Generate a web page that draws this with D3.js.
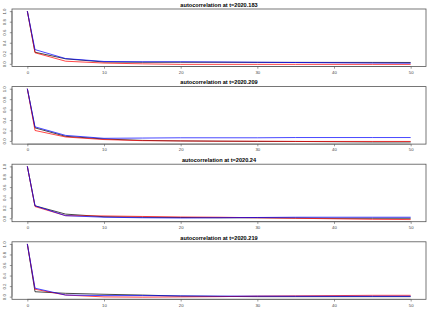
<!DOCTYPE html>
<html>
<head>
<meta charset="utf-8">
<script src="https://cdn.jsdelivr.net/npm/d3@7"></script>
<style>
  body { margin: 0; background: #fff; }
  text { font-family: "Liberation Sans", Arial, sans-serif; }
</style>
</head>
<body>
<div id="container"></div>
<script>
/* CONSTANTS AND GLOBALS */
const width = 436;
const height = 309;

const lags = [0, 1, 5, 10, 15, 20, 25, 30, 35, 40, 45, 50];
const titles = ["autocorrelation at t=2020.183", "autocorrelation at t=2020.209",
                "autocorrelation at t=2020.24", "autocorrelation at t=2020.219"];
const xTicks = [0, 10, 20, 30, 40, 50];
const yTicks = [0, 0.2, 0.4, 0.6, 0.8, 1.0];

// panel 1
const black1 = [1, 0.22, 0.095, 0.035, 0.03, 0.03, 0.03, 0.028, 0.028, 0.027, 0.027, 0.026];
const red1   = [1, 0.21, 0.05, 0.015, 0.0, -0.01, -0.01, -0.01, -0.01, -0.01, -0.01, -0.01];
const blue1  = [1, 0.27, 0.10, 0.045, 0.04, 0.04, 0.035, 0.03, 0.025, 0.02, 0.015, 0.012];
// panel 2
const black2 = [1, 0.25, 0.088, 0.037, 0.01, 0.0, -0.005, -0.01, -0.01, -0.015, -0.02, -0.02];
const red2   = [1, 0.20, 0.075, 0.026, 0.005, 0.0, -0.005, -0.005, -0.01, -0.01, -0.01, -0.01];
const blue2  = [1, 0.27, 0.106, 0.05, 0.055, 0.06, 0.06, 0.06, 0.065, 0.065, 0.065, 0.065];
// panel 3
const black3 = [1, 0.24, 0.08, 0.03, 0.02, 0.015, 0.01, 0.01, 0.005, 0.0, 0.0, 0.0];
const red3   = [1, 0.225, 0.05, 0.045, 0.035, 0.025, 0.02, 0.01, 0.0, -0.01, -0.02, -0.025];
const blue3  = [1, 0.24, 0.05, 0.02, 0.01, 0.005, 0.01, 0.015, 0.02, 0.02, 0.02, 0.02];
// panel 4
const black4 = [1, 0.093, 0.063, 0.045, 0.03, 0.01, 0.005, 0.0, 0.0, 0.0, 0.0, 0.0];
const red4   = [1, 0.14, 0.03, -0.005, -0.01, -0.005, 0.0, 0.01, 0.015, 0.02, 0.025, 0.025];
const blue4  = [1, 0.16, 0.03, 0.02, 0.02, 0.015, 0.01, 0.01, 0.008, 0.007, 0.007, 0.007];

const panels = [
  [black1, red1, blue1],
  [black2, red2, blue2],
  [black3, red3, blue3],
  [black4, red4, blue4]
];
const colors = ["black", "red", "blue"];

/* LAYOUT */
const boxLeft = 12, boxRight = 426;
const boxTop0 = 9, panelStep = 77.6, boxH = 57.5;

const svg = d3.select("#container")
  .append("svg")
  .attr("width", width)
  .attr("height", height);

// x scale like R: 4% padding on each side
const xPad = 50 * 0.04;
const xScale = d3.scaleLinear()
  .domain([0 - xPad, 50 + xPad])
  .range([boxLeft, boxRight]);

panels.forEach((series, p) => {
  const top = boxTop0 + p * panelStep;
  const bottom = top + boxH;

  const allVals = series.flat();
  const lo = d3.min(allVals), hi = d3.max(allVals);
  const pad = (hi - lo) * 0.04;
  const yScale = d3.scaleLinear()
    .domain([lo - pad, hi + pad])
    .range([bottom, top]);

  const g = svg.append("g");

  // lines
  const line = d3.line()
    .x((d, i) => xScale(lags[i]))
    .y(d => yScale(d));

  series.forEach((vals, k) => {
    g.append("path")
      .datum(vals)
      .attr("fill", "none")
      .attr("stroke", colors[k])
      .attr("stroke-width", 0.9)
      .attr("stroke-opacity", 0.8)
      .attr("d", line);
  });

  // box
  g.append("rect")
    .attr("x", boxLeft)
    .attr("y", top)
    .attr("width", boxRight - boxLeft)
    .attr("height", boxH)
    .attr("fill", "none")
    .attr("stroke", "#555")
    .attr("stroke-width", 0.8);

  // x axis
  const xAxis = d3.axisBottom(xScale)
    .tickValues(xTicks)
    .tickSize(2.2)
    .tickPadding(2)
    .tickFormat(d3.format("d"));
  const gx = g.append("g")
    .attr("transform", `translate(0, ${bottom})`)
    .style("font-size", "4.3px")
    .call(xAxis);
  gx.select(".domain")
    .attr("d", `M${xScale(0)},0H${xScale(50)}`)
    .attr("stroke", "#555")
    .attr("stroke-width", 0.6);
  gx.selectAll(".tick line").attr("stroke", "#555").attr("stroke-width", 0.6);
  gx.selectAll(".tick text").attr("fill", "#444");

  // y axis
  const yAxis = d3.axisLeft(yScale)
    .tickValues(yTicks)
    .tickSize(2.2)
    .tickFormat(d3.format(".1f"));
  const gy = g.append("g")
    .attr("transform", `translate(${boxLeft}, 0)`)
    .style("font-size", "4.3px")
    .call(yAxis);
  gy.select(".domain")
    .attr("d", `M0,${yScale(0)}V${yScale(1)}`)
    .attr("stroke", "#555")
    .attr("stroke-width", 0.6);
  gy.selectAll(".tick line").attr("stroke", "#555").attr("stroke-width", 0.6);
  gy.selectAll(".tick text")
    .attr("fill", "#444")
    .attr("x", null)
    .attr("dy", null)
    .attr("text-anchor", "middle")
    .attr("transform", "translate(-6.5,0) rotate(-90)");

  // title
  g.append("text")
    .attr("x", (boxLeft + boxRight) / 2)
    .attr("y", top - 2.3)
    .attr("text-anchor", "middle")
    .style("font-weight", "bold")
    .style("font-size", "5.6px")
    .text(titles[p]);
});
</script>
</body>
</html>
